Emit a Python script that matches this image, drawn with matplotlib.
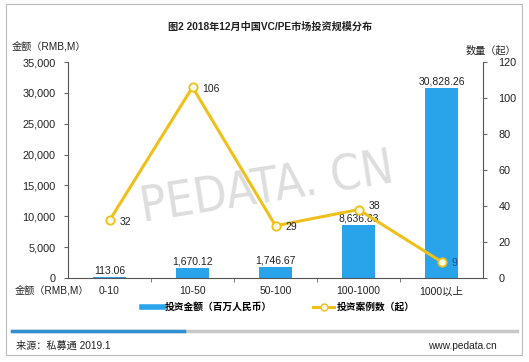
import matplotlib
matplotlib.use('Agg')
import matplotlib.pyplot as plt
from matplotlib.lines import Line2D
from matplotlib.patches import Rectangle

plt.rcParams['font.family'] = ['Liberation Sans', 'Noto Sans CJK SC', 'DejaVu Sans']
plt.rcParams['axes.unicode_minus'] = False

# 数据
categories = ['0-10', '10-50', '50-100', '100-1000', '1000以上']
amount = [113.06, 1670.12, 1746.67, 8636.83, 30828.26]
cases = [32, 106, 29, 38, 9]
amount_ticks = [0, 5000, 10000, 15000, 20000, 25000, 30000, 35000]
case_ticks = [0, 20, 40, 60, 80, 100, 120]

bar_color = '#29A3EA'
line_color = '#EFC01A'
text_color = '#222222'

fig = plt.figure(figsize=(5.29, 3.62), dpi=100)

# 外框
fig.patches.append(Rectangle((6 / 529, 1 - 355 / 362), 516 / 529, 351 / 362,
                             transform=fig.transFigure, fill=False,
                             edgecolor='#BBBBBB', lw=0.8))

# 水印
fig.text(0.505, 0.48, 'PEDATA. CN', fontsize=35, color='#D5D5D5', alpha=0.8,
         rotation=9, ha='center', va='center', family='DejaVu Sans',
         fontstretch='condensed', zorder=0)

ax = fig.add_axes([68 / 529, 1 - 278 / 362, 415 / 529, 216 / 362])
ax.patch.set_alpha(0)
x = range(len(categories))
bars = ax.bar(x, amount, width=0.4, color=bar_color, zorder=2)
ax.bar_label(bars, labels=[f'{v:,.2f}' for v in amount], padding=1,
             fontsize=7.5, color=text_color)
ax.set_ylim(0, 35000)
ax.set_xlim(-0.5, len(categories) - 0.5)
ax.set_yticks(amount_ticks)
ax.set_yticklabels([f'{v:,}' for v in amount_ticks], fontsize=7.8, color=text_color)
ax.set_xticks(list(x))
ax.set_xticklabels(categories, fontsize=7.5, color=text_color)
ax.set_xticks([i + 0.5 for i in range(len(categories) - 1)], minor=True)
ax.tick_params(axis='x', which='major', length=0, pad=6)
ax.tick_params(axis='x', which='minor', length=3, color='#666666')
ax.tick_params(axis='y', length=3, color='#666666', pad=6)
for s in ['top', 'right']:
    ax.spines[s].set_visible(False)
for s in ['left', 'bottom']:
    ax.spines[s].set_color('#555555')

ax2 = ax.twinx()
ax2.plot(list(x), cases, color=line_color, lw=2.2, marker='o', ms=6,
         mfc='#FFFBE6', mec=line_color, mew=1.3, zorder=3)
for i, v in enumerate(cases):
    dy = 2.5 if i == 3 else -1
    ax2.annotate(str(v), (i, v), xytext=(7, dy), textcoords='offset points',
                 va='center', ha='left', fontsize=7.5,
                 color='#1F4E8A' if i == 4 else text_color)
ax2.set_ylim(0, 120)
ax2.set_yticks(case_ticks)
ax2.set_yticklabels([str(v) for v in case_ticks], fontsize=7.8, color=text_color)
ax2.tick_params(axis='y', length=3, color='#666666', pad=8)
for s in ['top', 'left', 'bottom']:
    ax2.spines[s].set_visible(False)
ax2.spines['right'].set_color('#555555')

# 文字
fig.text(270 / 529, 1 - 27 / 362, '图2 2018年12月中国VC/PE市场投资规模分布', ha='center',
         va='center', fontsize=7.3, fontweight='bold', color=text_color)
fig.text(12 / 529, 1 - 47 / 362, '金额（RMB,M）', ha='left', va='center',
         fontsize=7.3, color=text_color)
fig.text(516 / 529, 1 - 50 / 362, '数量（起）', ha='right', va='center',
         fontsize=7.3, color=text_color)
fig.text(52 / 529, 1 - 291 / 362, '金额（RMB,M）', ha='center', va='center',
         fontsize=7.3, color=text_color)

handles = [Line2D([], [], color=bar_color, lw=4),
           Line2D([], [], color=line_color, lw=2.2, marker='o', ms=5,
                  mfc='#FFFBE6', mec=line_color)]
fig.legend(handles, ['投资金额（百万人民币）', '投资案例数（起）'],
           loc='center', bbox_to_anchor=(278 / 529, 1 - 307 / 362), ncol=2,
           frameon=False, handlelength=2.2, handletextpad=0.2,
           columnspacing=4.2, prop={'weight': 'bold', 'size': 7.0})

# 进度条
fig.add_artist(Line2D([12 / 529, 517 / 529], [1 - 331 / 362] * 2, color='#C8C8C8',
                      lw=2.5, transform=fig.transFigure))
fig.add_artist(Line2D([12 / 529, 184 / 529], [1 - 331 / 362] * 2, color='#2F8FD0',
                      lw=2.5, transform=fig.transFigure))

fig.text(16 / 529, 1 - 346 / 362, '来源：私募通 2019.1', ha='left', va='center',
         fontsize=7.3, color=text_color)
fig.text(497 / 529, 1 - 346 / 362, 'www.pedata.cn', ha='right', va='center',
         fontsize=7.3, color=text_color)

fig.savefig('out.png', dpi=100)
